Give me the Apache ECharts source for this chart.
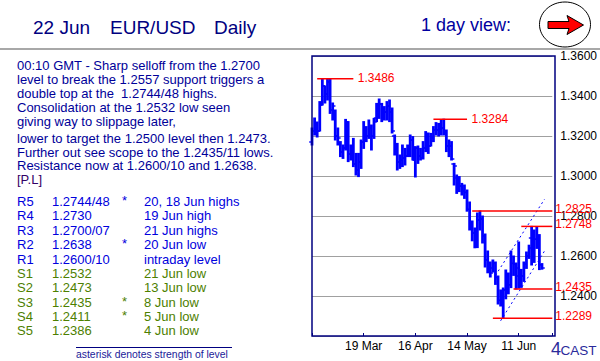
<!DOCTYPE html>
<html><head><meta charset="utf-8">
<script src="https://cdn.jsdelivr.net/npm/echarts@6/dist/echarts.min.js"></script>
<style>html,body{margin:0;padding:0;background:#fff;}#c{width:600px;height:361px;}</style>
</head><body><div id="c"></div>
<script>
// ---------- DATA ----------
const firstTradingDay = '2012-02-20';
const tradingDayCount = 94; // 20 Feb .. 28 Jun 2012 (weekdays)
const openPx  = [1.3170,1.3225,1.3240,1.3225,1.3355,1.3450,1.3410,1.3470,1.3330,1.3320,
                 1.3200,1.3165,1.3120,1.3140,1.3270,1.3110,1.3140,1.3060,1.3030,1.3070,
                 1.3170,1.3220,1.3200,1.3240,1.3200,1.3290,1.3340,1.3360,1.3310,1.3320,
                 1.3350,1.3320,1.3200,1.3130,1.3070,1.3080,1.3090,1.3100,1.3120,1.3180,
                 1.3080,1.3140,1.3100,1.3090,1.3140,1.3210,1.3150,1.3190,1.3230,1.3230,
                 1.3240,1.3240,1.3220,1.3150,1.3150,1.3060,1.2990,1.2930,1.2950,1.2925,
                 1.2918,1.2833,1.2750,1.2715,1.2670,1.2780,1.2785,1.2700,1.2580,1.2530,
                 1.2540,1.2565,1.2493,1.2378,1.2370,1.2430,1.2495,1.2456,1.2563,1.2560,
                 1.2540,1.2482,1.2500,1.2560,1.2600,1.2690,1.2580,1.2684,1.2700,1.2556];
const highPx  = [1.3240,1.3290,1.3270,1.3372,1.3486,1.3450,1.3484,1.3486,1.3365,1.3330,
                 1.3240,1.3172,1.3155,1.3283,1.3272,1.3155,1.3188,1.3113,1.3113,1.3180,
                 1.3272,1.3247,1.3280,1.3255,1.3288,1.3363,1.3385,1.3363,1.3347,1.3372,
                 1.3380,1.3340,1.3205,1.3163,1.3105,1.3155,1.3138,1.3155,1.3205,1.3197,
                 1.3147,1.3150,1.3138,1.3172,1.3222,1.3215,1.3213,1.3247,1.3267,1.3263,
                 1.3280,1.3284,1.3230,1.3180,1.3172,1.3063,1.3005,1.2997,1.2963,1.2955,
                 1.2930,1.2870,1.2775,1.2740,1.2815,1.2825,1.2800,1.2710,1.2625,1.2570,
                 1.2580,1.2570,1.2500,1.2430,1.2440,1.2530,1.2515,1.2625,1.2600,1.2565,
                 1.2670,1.2533,1.2570,1.2620,1.2654,1.2748,1.2730,1.2744,1.2707,1.2562];
const lowPx   = [1.3155,1.3205,1.3195,1.3225,1.3355,1.3365,1.3380,1.3313,1.3280,1.3180,
                 1.3155,1.3097,1.3088,1.3130,1.3072,1.3080,1.3047,1.3005,1.2997,1.3038,
                 1.3138,1.3172,1.3188,1.3130,1.3188,1.3272,1.3288,1.3272,1.3280,1.3280,
                 1.3272,1.3215,1.3105,1.3030,1.3038,1.3047,1.3055,1.3097,1.3097,1.3080,
                 1.2995,1.3063,1.3080,1.3085,1.3122,1.3113,1.3150,1.3172,1.3205,1.3200,
                 1.3205,1.3205,1.3122,1.3097,1.3080,1.2955,1.2913,1.2922,1.2905,1.2888,
                 1.2824,1.2730,1.2676,1.2641,1.2642,1.2730,1.2665,1.2545,1.2516,1.2495,
                 1.2520,1.2458,1.2360,1.2350,1.2289,1.2386,1.2411,1.2442,1.2503,1.2435,
                 1.2440,1.2443,1.2473,1.2538,1.2588,1.2555,1.2568,1.2638,1.2532,1.2534];
const closePx = [1.3225,1.3240,1.3225,1.3355,1.3450,1.3410,1.3470,1.3330,1.3350,1.3200,
                 1.3190,1.3120,1.3140,1.3270,1.3110,1.3140,1.3060,1.3030,1.3070,1.3170,
                 1.3220,1.3200,1.3240,1.3200,1.3270,1.3340,1.3360,1.3310,1.3320,1.3350,
                 1.3320,1.3225,1.3130,1.3070,1.3080,1.3090,1.3100,1.3120,1.3180,1.3080,
                 1.3140,1.3100,1.3090,1.3140,1.3210,1.3150,1.3190,1.3230,1.3230,1.3240,
                 1.3240,1.3220,1.3150,1.3150,1.3085,1.3050,1.2930,1.2950,1.2925,1.2918,
                 1.2833,1.2750,1.2715,1.2670,1.2780,1.2785,1.2700,1.2580,1.2530,1.2515,
                 1.2565,1.2493,1.2378,1.2370,1.2430,1.2495,1.2456,1.2563,1.2560,1.2500,
                 1.2482,1.2500,1.2560,1.2600,1.2640,1.2580,1.2684,1.2700,1.2556,1.2540];
const xTickLabels = ['19 Mar','16 Apr','14 May','11 Jun'];
const yMin = 1.22, yMax = 1.36, yStep = 0.02;
const levelValues  = [1.3486, 1.3284, 1.2825, 1.2748, 1.2435, 1.2289];
const levelFrom    = ['22 Feb','25 Apr','16 May','12 Jun','7 Jun','28 May'];
const levelTo      = ['13 Mar','14 May','28 Jun','28 Jun','28 Jun','28 Jun'];
const levelOutside = [0, 0, 1, 1, 1, 1];
const channelLowerDates  = ['31 May','25 Jun'];
const channelLowerValues = [1.2276, 1.2625];
const channelUpperDates  = ['29 May','25 Jun'];
const channelUpperValues = [1.2503, 1.2884];
const headerParts = ['22 Jun', 'EUR/USD', 'Daily'];
const viewText = '1 day view:';
const commentary = [
  '00:10 GMT - Sharp selloff from the 1.2700',
  'level to break the 1.2557 support triggers a',
  'double top at the  1.2744/48 highs.',
  'Consolidation at the 1.2532 low seen',
  'giving way to slippage later,',
  'lower to target the 1.2500 level then 1.2473.',
  'Further out see scope to the 1.2435/11 lows.',
  'Resistance now at 1.2600/10 and 1.2638.'
];
const author = '[P.L]';
const rowNames  = ['R5','R4','R3','R2','R1','S1','S2','S3','S4','S5'];
const rowLevels = ['1.2744/48','1.2730','1.2700/07','1.2638','1.2600/10','1.2532','1.2473','1.2435','1.2411','1.2386'];
const rowStars  = ['*','','','*','','','','*','*',''];
const rowNotes  = ['20, 18 Jun highs','19 Jun high','21 Jun highs','20 Jun low','intraday level','21 Jun low','13 Jun low','8 Jun low','5 Jun low','4 Jun low'];
const footnote = 'asterisk denotes strength of level';

// ---------- build trading-day categories ----------
const MON = ['Jan','Feb','Mar','Apr','May','Jun','Jul','Aug','Sep','Oct','Nov','Dec'];
const dates = [];
{
  const d = new Date(firstTradingDay + 'T00:00:00Z');
  while (dates.length < tradingDayCount) {
    const wd = d.getUTCDay();
    if (wd !== 0 && wd !== 6) dates.push(d.getUTCDate() + ' ' + MON[d.getUTCMonth()]);
    d.setUTCDate(d.getUTCDate() + 1);
  }
}
const di = s => dates.indexOf(s);

const FONT = '"Liberation Sans", Arial, sans-serif';
const chart = echarts.init(document.getElementById('c'), null, {renderer: 'svg'});

const ohlcData = openPx.map((o, i) => [i, o, highPx[i], lowPx[i], closePx[i]]);
const levelData = levelValues.map((v, k) => [di(levelFrom[k]), di(levelTo[k]), v, levelOutside[k]]);

function txt(text, x, y, color, size, extra) {
  return Object.assign({
    type: 'text', x: x, y: y, z: 50,
    style: {text: text, fill: color, font: size + 'px ' + FONT,
            align: 'left', verticalAlign: 'middle', textAlign: 'left', textVerticalAlign: 'middle'}
  }, extra || {});
}

const graphics = [];
// header
const hx = [33, 110, 214];
headerParts.forEach((t, k) => graphics.push(txt(t, hx[k], 27.5, '#000080', 19)));
graphics.push(txt(viewText, 421, 25, '#0000a0', 18));
graphics.push({type: 'rect', shape: {x: 0, y: 48, width: 600, height: 2}, style: {fill: '#a8a8a8'}, z: 40});
graphics.push({type: 'ellipse', shape: {cx: 565, cy: 24.5, rx: 25.5, ry: 22.5}, style: {fill: '#fff', stroke: '#000', lineWidth: 1}, z: 41});
graphics.push({type: 'polygon', shape: {points: [[548,21.5],[569,21.5],[567,15.5],[583.5,25],[567,34.5],[569,28.5],[548,28.5]]},
  style: {fill: '#ff0000', stroke: '#000', lineWidth: 1}, z: 42});
// commentary
const cy = [65, 79.3, 93.3, 107.7, 121.7, 138.3, 152.7, 165.7];
commentary.forEach((t, k) => graphics.push(txt(t, 17, cy[k], '#000099', 13)));
graphics.push(txt(author, 17, 179, '#330066', 13));
// levels table
const ry = [201.7, 215.7, 230.7, 244.3, 259, 273.3, 287.3, 302.3, 316, 330.3];
rowNames.forEach((n, k) => {
  const col = n[0] === 'R' ? '#0000dd' : '#4d8000';
  graphics.push(txt(n, 17, ry[k], col, 13));
  graphics.push(txt(rowLevels[k], 52, ry[k], col, 13));
  if (rowStars[k]) graphics.push(txt(rowStars[k], 122, ry[k] - 1, col, 13));
  graphics.push(txt(rowNotes[k], 144, ry[k], col, 13));
});
graphics.push({type: 'line', shape: {x1: 76, y1: 347.5, x2: 232, y2: 347.5}, style: {stroke: '#000080', lineWidth: 1}, z: 40});
graphics.push(txt(footnote, 76, 354, '#1a1a99', 10.4));
// logo
graphics.push(txt('4', 551, 348.5, '#2b2b9b', 18));
graphics.push(txt('CAST', 560.5, 350.5, '#2b2b9b', 13.5));
// plot frame
graphics.push({type: 'rect', shape: {x: 312, y: 56, width: 243, height: 280}, style: {fill: 'none', stroke: '#000080', lineWidth: 1.5}, z: 60});

chart.setOption({
  animation: false,
  backgroundColor: '#fff',
  grid: {left: 312, top: 56, width: 243, height: 280, show: false},
  xAxis: {
    type: 'value', min: 0, max: tradingDayCount - 1, interval: 20,
    axisLine: {show: false},
    axisTick: {show: true, inside: true, length: 3, lineStyle: {color: '#000080', width: 1}},
    splitLine: {show: false},
    axisLabel: {
      margin: 4, color: '#000', fontSize: 12, fontFamily: FONT,
      showMinLabel: true, showMaxLabel: true,
      formatter: v => { const s = dates[Math.round(v)]; return xTickLabels.indexOf(s) >= 0 ? s : ''; }
    }
  },
  yAxis: {
    type: 'value', position: 'right', min: yMin, max: yMax, interval: yStep,
    axisLine: {show: false}, axisTick: {show: false},
    splitLine: {show: true, lineStyle: {color: '#a0a0a0', width: 1}},
    axisLabel: {
      margin: 8, color: '#000', fontSize: 12, fontFamily: FONT,
      formatter: v => (Math.abs(v - yMin) < 1e-6 ? '' : v.toFixed(4))
    }
  },
  series: [
    {
      type: 'custom', name: 'EUR/USD', clip: false, z: 5,
      data: ohlcData, encode: {x: 0, y: [1, 2, 3, 4]},
      renderItem: (params, api) => {
        const x = api.value(0);
        const pO = api.coord([x, api.value(1)]);
        const pH = api.coord([x, api.value(2)]);
        const pL = api.coord([x, api.value(3)]);
        const pC = api.coord([x, api.value(4)]);
        const st = {stroke: '#0000ff', lineWidth: 2.8};
        const tk = {stroke: '#0000ff', lineWidth: 1.4};
        return {type: 'group', children: [
          {type: 'line', shape: {x1: pH[0], y1: pH[1] - 0.5, x2: pL[0], y2: pL[1] + 0.5}, style: st},
          {type: 'line', shape: {x1: pO[0] - 2.8, y1: pO[1], x2: pO[0], y2: pO[1]}, style: tk},
          {type: 'line', shape: {x1: pC[0], y1: pC[1], x2: pC[0] + 2.8, y2: pC[1]}, style: tk}
        ]};
      }
    },
    {
      type: 'line', silent: true, symbol: 'none', z: 6,
      data: channelLowerDates.map((d, k) => [di(d), channelLowerValues[k]]),
      lineStyle: {color: '#0000ff', width: 1, type: [2, 3]}
    },
    {
      type: 'line', silent: true, symbol: 'none', z: 6,
      data: channelUpperDates.map((d, k) => [di(d), channelUpperValues[k]]),
      lineStyle: {color: '#0000ff', width: 1, type: [2, 3]}
    },
    {
      type: 'custom', name: 'levels', clip: false, z: 8,
      data: levelData, encode: {x: [0, 1], y: 2},
      renderItem: (params, api) => {
        const p1 = api.coord([api.value(0), api.value(2)]);
        const p2 = api.coord([api.value(1), api.value(2)]);
        const out = api.value(3) === 1;
        return {type: 'group', children: [
          {type: 'line', shape: {x1: p1[0], y1: p1[1], x2: p2[0], y2: p2[1]}, style: {stroke: '#ff0000', lineWidth: 1.5}},
          {type: 'text', x: p2[0] + (out ? 3 : 4.5), y: p1[1] + (out ? -2.5 : -0.5),
           style: {text: api.value(2).toFixed(4), fill: '#ff0000', font: '12px ' + FONT,
                   align: 'left', verticalAlign: 'middle', textAlign: 'left', textVerticalAlign: 'middle'}}
        ]};
      }
    }
  ],
  graphic: graphics
});
</script>
</body></html>
